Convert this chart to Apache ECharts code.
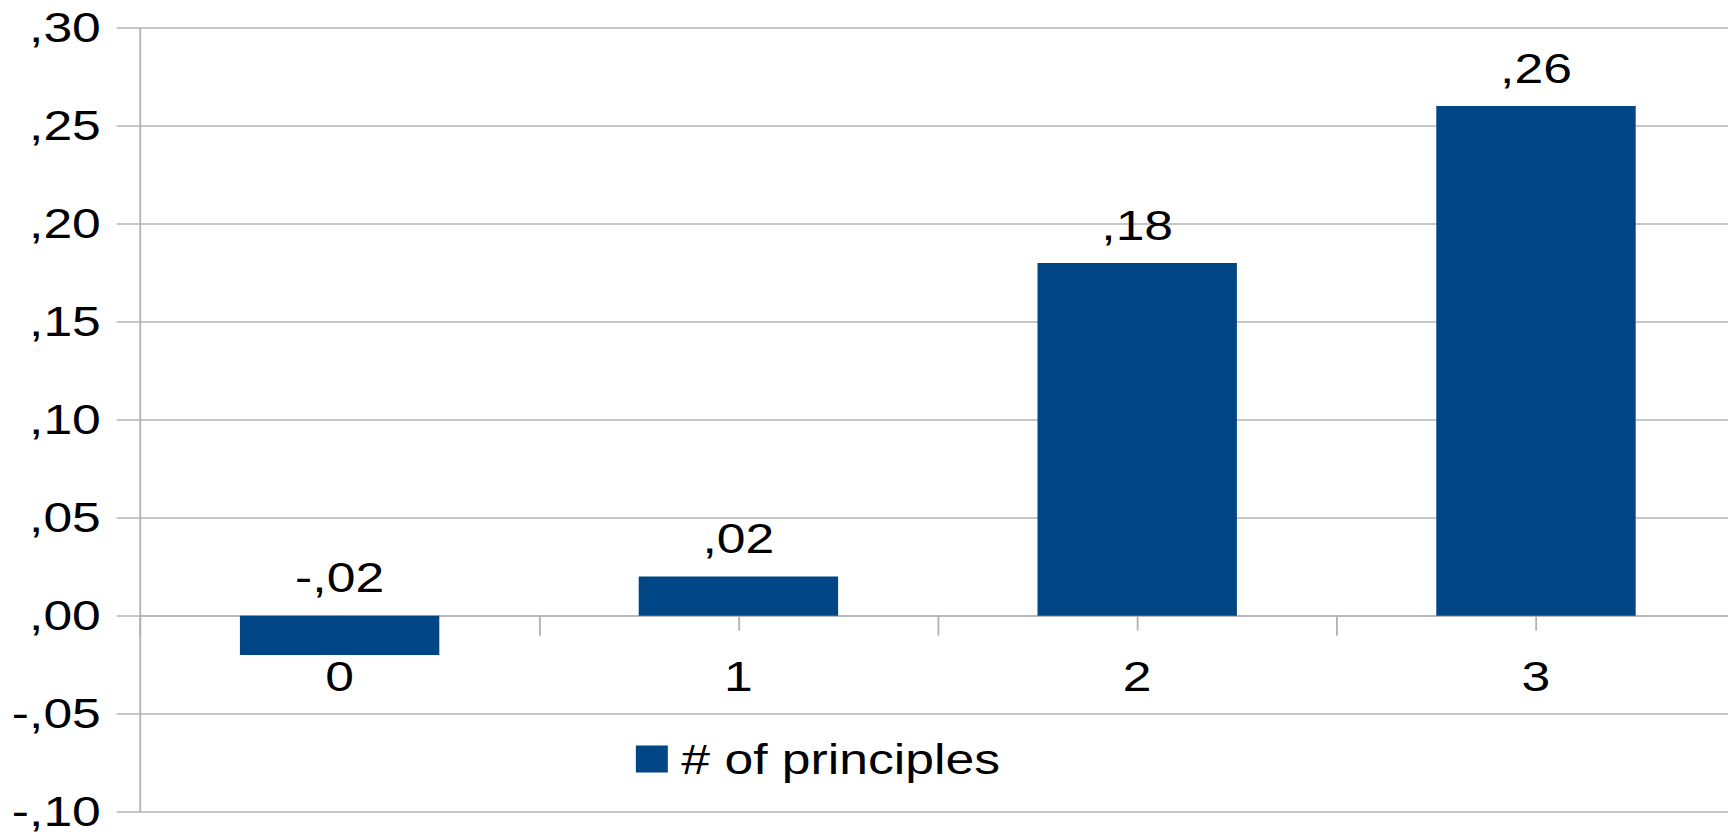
<!DOCTYPE html>
<html>
<head>
<meta charset="utf-8">
<script src="https://cdn.jsdelivr.net/npm/echarts@6/dist/echarts.min.js"></script>
<style>
  html, body { margin: 0; padding: 0; background: #ffffff; overflow: hidden; }
  /* chart is laid out at a narrower width and widened to fill the page */
  #chart { width: 1405px; height: 834px; transform: scaleX(1.2299); transform-origin: 0 0; }
</style>
</head>
<body>
<div id="chart"></div>
<script>
const categories = ['0', '1', '2', '3'];
const seriesName = '# of principles';
const values = [-0.02, 0.02, 0.18, 0.26];
const yMin = -0.10;
const yMax = 0.30;
const yStep = 0.05;

// decimal comma without the leading zero: 0.25 -> ",25", -0.05 -> "-,05"
function fmt(v) {
  const r = Math.round(v * 100) / 100;
  const body = Math.abs(r).toFixed(2).slice(1).replace('.', ',');
  return (r < 0 ? '-' : '') + body;
}

const FONT = 'Liberation Sans, Arial, sans-serif';
const GRID = '#b3b3b3';
const BAR = '#004586';

const gridTop = 27.7;
const gridHeight = 784;
// lift the label axis from the plot bottom up to the zero line
const zeroOffset = -(0 - yMin) / (yMax - yMin) * gridHeight;

const chart = echarts.init(document.getElementById('chart'), null, { renderer: 'svg' });
chart.setOption({
  animation: false,
  backgroundColor: '#ffffff',
  textStyle: { fontFamily: FONT },
  grid: {
    left: 114, top: gridTop, width: 1297, height: gridHeight,
    containLabel: false, outerBoundsMode: 'none'
  },
  legend: {
    data: [seriesName],
    left: 512, top: 733,
    icon: 'rect', itemWidth: 26, itemHeight: 27, itemGap: 13,
    textStyle: { fontFamily: FONT, fontSize: 42, color: '#000000', padding: [0, 0, 0, 6] }
  },
  xAxis: [
    {
      // zero line with ticks between categories
      type: 'category', data: categories, position: 'bottom',
      axisLine: { show: true, onZero: true, lineStyle: { color: GRID, width: 1.5 } },
      axisTick: { show: true, alignWithLabel: false, length: 20, lineStyle: { color: GRID, width: 1.5 } },
      axisLabel: { show: false },
      splitLine: { show: false }
    },
    {
      // category labels and centre ticks along the zero line
      type: 'category', data: categories, position: 'bottom', offset: zeroOffset,
      axisLine: { show: false, onZero: false },
      axisTick: { show: true, alignWithLabel: true, length: 15, lineStyle: { color: GRID, width: 1.5 } },
      axisLabel: { show: true, fontFamily: FONT, fontSize: 42, color: '#000000', margin: 40 },
      splitLine: { show: false }
    }
  ],
  yAxis: {
    type: 'value', min: yMin, max: yMax, interval: yStep,
    axisLine: { show: true, lineStyle: { color: GRID, width: 1.5 } },
    axisTick: { show: true, length: 19, lineStyle: { color: GRID, width: 1.5 } },
    axisLabel: { fontFamily: FONT, fontSize: 42, color: '#000000', margin: 32, formatter: fmt },
    splitLine: { show: true, lineStyle: { color: GRID, width: 1.5 } }
  },
  series: [{
    name: seriesName,
    type: 'bar',
    xAxisIndex: 0,
    data: values,
    barWidth: '50%',
    itemStyle: { color: BAR },
    label: {
      show: true, position: 'top', distance: 17,
      fontFamily: FONT, fontSize: 42, color: '#000000',
      formatter: p => fmt(p.value)
    }
  }]
});
</script>
</body>
</html>
